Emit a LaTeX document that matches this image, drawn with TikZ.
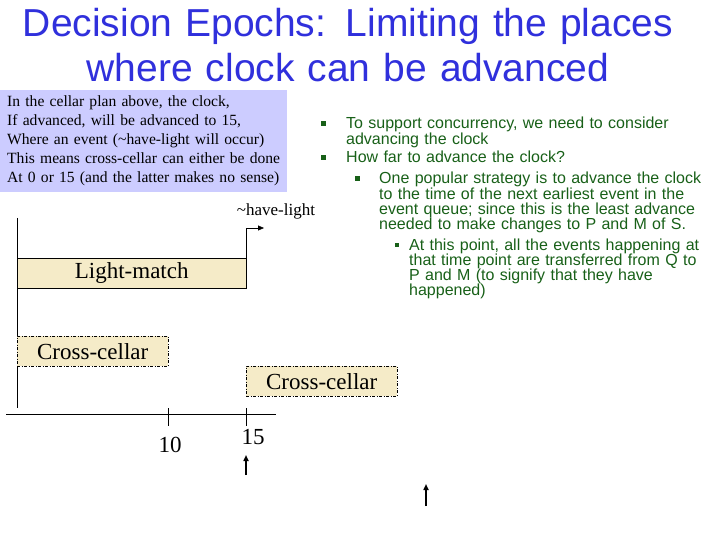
\documentclass[tikz,border=0pt]{standalone}
\usepackage{fontspec}
\setmainfont{Liberation Serif}
\newfontfamily\arialfont{Liberation Sans}
\usetikzlibrary{arrows.meta}
\definecolor{titleblue}{RGB}{48,48,220}
\definecolor{notefill}{RGB}{204,204,255}
\definecolor{lmfill}{RGB}{245,235,200}
\definecolor{ptgreen}{RGB}{24,96,24}
\begin{document}
\begin{tikzpicture}[x=1pt,y=-1pt,
	title/.style={text=titleblue,font=\arialfont\fontsize{39}{45}\selectfont,
	text width=710,align=center,inner sep=0,anchor=base},
	note/.style={fill=notefill,anchor=north west,minimum width=287,minimum height=102,
	text width=273,inner xsep=7,inner ysep=0,align=left,font=\fontsize{15.6}{19}\selectfont},
	item/.style={text=ptgreen,anchor=base west,inner sep=0,align=left,
	font=\arialfont\fontsize{16}{15.3}\selectfont},
	sq/.style={fill=ptgreen,inner sep=0,minimum size=#1},
	act/.style={draw,anchor=north west,minimum width=#1,minimum height=30,inner sep=0,
	font=\fontsize{23}{23}\selectfont},
	cross/.style={act=151,fill=lmfill,dash pattern=on 3pt off 1.5pt on 1pt off 1.5pt},
	lbl/.style={inner sep=0,anchor=base,font=\fontsize{23}{23}\selectfont},
	tip/.style={-{Triangle[length=6pt,width=5pt]},line width=1.6pt}]
\useasboundingbox (0,0) rectangle (720,540);
\node[title] (ttl) at (348,37) {Decision Epochs: Limiting the places\\where clock can be advanced};
\node[note] (plan) at (0,90) {In the cellar plan above, the clock,\\
	If advanced, will be advanced to 15,\\
	Where an event (\textasciitilde have-light will occur)\\
	This means cross-cellar can either be done\\
	At 0 or 15 (and the latter makes no sense)};
\node[sq=5] (b1) at (323,124) {};
\node[item,text width=360] (t1) at (346,129) {To support concurrency, we need to consider\\advancing the clock};
\node[sq=5] (b2) at (323,158) {};
\node[item,text width=360] (t2) at (346,163) {How far to advance the clock?};
\node[sq=5] (b3) at (357,179) {};
\node[item,text width=330] (t3) at (379,184) {One popular strategy is to advance the clock\\
	to the time of the next earliest event in the\\
	event queue; since this is the least advance\\
	needed to make changes to P and M of S.};
\node[sq=4] (b4) at (397,245) {};
\node[item,text width=300] (t4) at (409,250) {At this point, all the events happening at\\
	that time point are transferred from Q to\\
	P and M (to signify that they have\\
	happened)};
\coordinate (vtop) at (17,218);
\coordinate (vbot) at (17,408);
\draw (vtop) -- (vbot);
\node[act=229,fill=lmfill] (light) at (17,258) {Light-match};
\coordinate (hl) at (264,228);
\draw[-{Triangle[length=6pt,width=5pt]}] (light.north east) |- (hl);
\node[inner sep=0,anchor=base,font=\fontsize{17}{17}\selectfont] (hlt) at (276,215) {\textasciitilde have-light};
\node[cross] (cc1) at (17,336) {Cross-cellar};
\node[cross] (cc2) at (246,366) {Cross-cellar};
\coordinate (axl) at (6,414);
\coordinate (axr) at (276,414);
\draw (axl) -- (axr);
\coordinate (k10) at (168,408);
\coordinate (k15) at (246,408);
\draw (k10) -- ++(0,18);
\draw (k15) -- ++(0,18);
\node[lbl] (n10) at (170,452) {10};
\node[lbl] (n15) at (253,444) {15};
\coordinate (a1s) at (246,475);
\coordinate (a1e) at (246,455);
\draw[tip] (a1s) -- (a1e);
\coordinate (a2s) at (426,506);
\coordinate (a2e) at (426,484);
\draw[tip] (a2s) -- (a2e);
\end{tikzpicture}
\end{document}
